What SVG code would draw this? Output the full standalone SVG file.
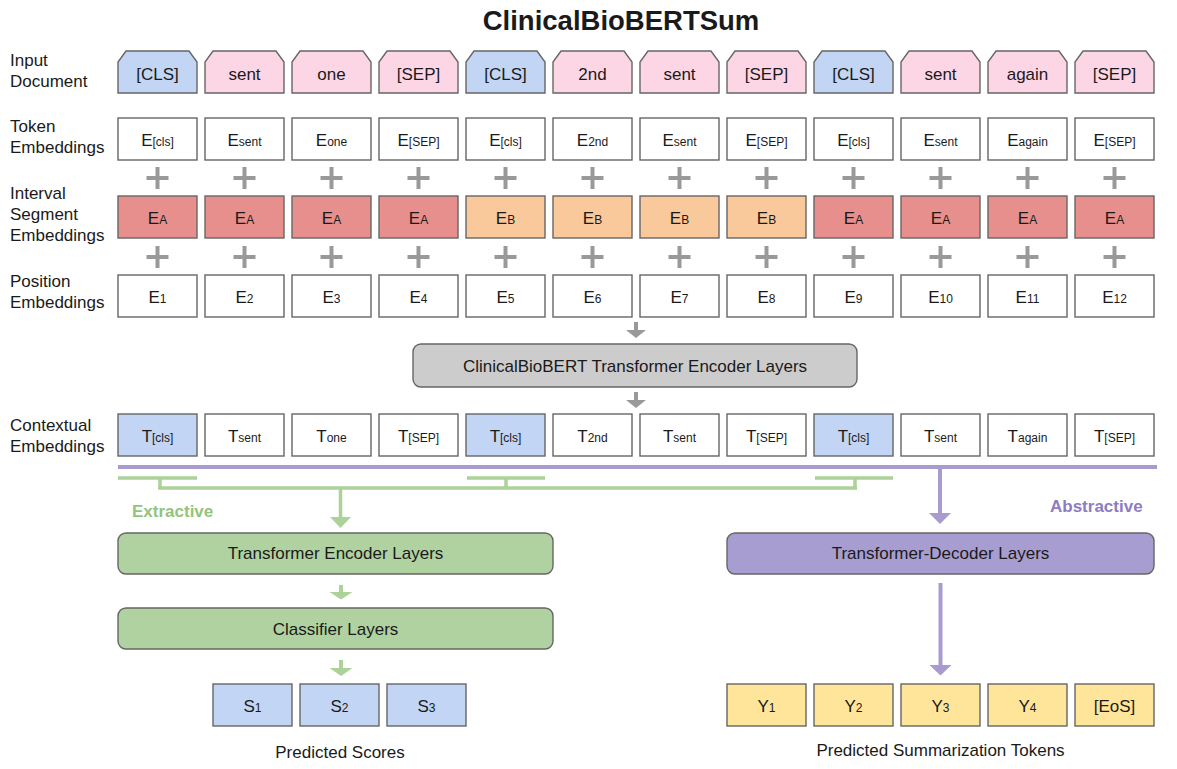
<svg xmlns="http://www.w3.org/2000/svg" width="1177" height="769" viewBox="0 0 1177 769">
<style>
text{font-family:"Liberation Sans",Arial,sans-serif;fill:#1a1a1a}
.lbl{font-size:17px}
.t{font-size:17px;text-anchor:middle}
.s{font-size:12px}
.box{stroke:#666;stroke-width:1.4}
.w{fill:#fff}
.blue{fill:#c2d5f4}
.pink{fill:#fdd6e6}
.red{fill:#e68f8c}
.org{fill:#f9c99b}
.yel{fill:#ffe599}
.gry{fill:#cccccc}
.grn{fill:#b0d2a0}
.pur{fill:#a89dd0}
.plus{stroke:#999;stroke-width:4;fill:none}
.ga{fill:#999}
.gl{stroke:#acd29a;stroke-width:3.5;fill:none}
.gf{fill:#acd29a}
.pl{stroke:#a99bd0;stroke-width:4;fill:none}
.pf{fill:#a99bd0}
</style>

<text x="621" y="30" font-size="27.5" font-weight="bold" text-anchor="middle">ClinicalBioBERTSum</text>

<g id="row-labels">
<text class="lbl" x="10" y="66">Input</text>
<text class="lbl" x="10" y="87">Document</text>
<text class="lbl" x="10" y="132">Token</text>
<text class="lbl" x="10" y="153">Embeddings</text>
<text class="lbl" x="10" y="199">Interval</text>
<text class="lbl" x="10" y="220">Segment</text>
<text class="lbl" x="10" y="241">Embeddings</text>
<text class="lbl" x="10" y="287">Position</text>
<text class="lbl" x="10" y="308">Embeddings</text>
<text class="lbl" x="10" y="431">Contextual</text>
<text class="lbl" x="10" y="452">Embeddings</text>
</g>

<g id="input-document">
<g id="in1"><path class="box blue" d="M118,93V62L126,51H189L197,62V93Z"/><text class="t" x="157.5" y="80">[CLS]</text></g>
<g id="in2"><path class="box pink" d="M205,93V62L213,51H276L284,62V93Z"/><text class="t" x="244.5" y="80">sent</text></g>
<g id="in3"><path class="box pink" d="M292,93V62L300,51H363L371,62V93Z"/><text class="t" x="331.5" y="80">one</text></g>
<g id="in4"><path class="box pink" d="M379,93V62L387,51H450L458,62V93Z"/><text class="t" x="418.5" y="80">[SEP]</text></g>
<g id="in5"><path class="box blue" d="M466,93V62L474,51H537L545,62V93Z"/><text class="t" x="505.5" y="80">[CLS]</text></g>
<g id="in6"><path class="box pink" d="M553,93V62L561,51H624L632,62V93Z"/><text class="t" x="592.5" y="80">2nd</text></g>
<g id="in7"><path class="box pink" d="M640,93V62L648,51H711L719,62V93Z"/><text class="t" x="679.5" y="80">sent</text></g>
<g id="in8"><path class="box pink" d="M727,93V62L735,51H798L806,62V93Z"/><text class="t" x="766.5" y="80">[SEP]</text></g>
<g id="in9"><path class="box blue" d="M814,93V62L822,51H885L893,62V93Z"/><text class="t" x="853.5" y="80">[CLS]</text></g>
<g id="in10"><path class="box pink" d="M901,93V62L909,51H972L980,62V93Z"/><text class="t" x="940.5" y="80">sent</text></g>
<g id="in11"><path class="box pink" d="M988,93V62L996,51H1059L1067,62V93Z"/><text class="t" x="1027.5" y="80">again</text></g>
<g id="in12"><path class="box pink" d="M1075,93V62L1083,51H1146L1154,62V93Z"/><text class="t" x="1114.5" y="80">[SEP]</text></g>
</g>

<g id="token-embeddings">
<g id="tk1"><rect class="box w" x="118" y="118" width="79" height="42"/><text class="t" x="157.5" y="146">E<tspan class="s">[cls]</tspan></text></g>
<g id="tk2"><rect class="box w" x="205" y="118" width="79" height="42"/><text class="t" x="244.5" y="146">E<tspan class="s">sent</tspan></text></g>
<g id="tk3"><rect class="box w" x="292" y="118" width="79" height="42"/><text class="t" x="331.5" y="146">E<tspan class="s">one</tspan></text></g>
<g id="tk4"><rect class="box w" x="379" y="118" width="79" height="42"/><text class="t" x="418.5" y="146">E<tspan class="s">[SEP]</tspan></text></g>
<g id="tk5"><rect class="box w" x="466" y="118" width="79" height="42"/><text class="t" x="505.5" y="146">E<tspan class="s">[cls]</tspan></text></g>
<g id="tk6"><rect class="box w" x="553" y="118" width="79" height="42"/><text class="t" x="592.5" y="146">E<tspan class="s">2nd</tspan></text></g>
<g id="tk7"><rect class="box w" x="640" y="118" width="79" height="42"/><text class="t" x="679.5" y="146">E<tspan class="s">sent</tspan></text></g>
<g id="tk8"><rect class="box w" x="727" y="118" width="79" height="42"/><text class="t" x="766.5" y="146">E<tspan class="s">[SEP]</tspan></text></g>
<g id="tk9"><rect class="box w" x="814" y="118" width="79" height="42"/><text class="t" x="853.5" y="146">E<tspan class="s">[cls]</tspan></text></g>
<g id="tk10"><rect class="box w" x="901" y="118" width="79" height="42"/><text class="t" x="940.5" y="146">E<tspan class="s">sent</tspan></text></g>
<g id="tk11"><rect class="box w" x="988" y="118" width="79" height="42"/><text class="t" x="1027.5" y="146">E<tspan class="s">again</tspan></text></g>
<g id="tk12"><rect class="box w" x="1075" y="118" width="79" height="42"/><text class="t" x="1114.5" y="146">E<tspan class="s">[SEP]</tspan></text></g>
</g>

<g id="plus-signs" class="plus">
<path d="M146.5,178h22M157.5,167v22M233.5,178h22M244.5,167v22M320.5,178h22M331.5,167v22M407.5,178h22M418.5,167v22M494.5,178h22M505.5,167v22M581.5,178h22M592.5,167v22M668.5,178h22M679.5,167v22M755.5,178h22M766.5,167v22M842.5,178h22M853.5,167v22M929.5,178h22M940.5,167v22M1016.5,178h22M1027.5,167v22M1103.5,178h22M1114.5,167v22"/>
<path d="M146.5,257h22M157.5,246v22M233.5,257h22M244.5,246v22M320.5,257h22M331.5,246v22M407.5,257h22M418.5,246v22M494.5,257h22M505.5,246v22M581.5,257h22M592.5,246v22M668.5,257h22M679.5,246v22M755.5,257h22M766.5,246v22M842.5,257h22M853.5,246v22M929.5,257h22M940.5,246v22M1016.5,257h22M1027.5,246v22M1103.5,257h22M1114.5,246v22"/>
</g>

<g id="segment-embeddings">
<g id="sg1"><rect class="box red" x="118" y="196" width="79" height="42"/><text class="t" x="157.5" y="224">E<tspan class="s">A</tspan></text></g>
<g id="sg2"><rect class="box red" x="205" y="196" width="79" height="42"/><text class="t" x="244.5" y="224">E<tspan class="s">A</tspan></text></g>
<g id="sg3"><rect class="box red" x="292" y="196" width="79" height="42"/><text class="t" x="331.5" y="224">E<tspan class="s">A</tspan></text></g>
<g id="sg4"><rect class="box red" x="379" y="196" width="79" height="42"/><text class="t" x="418.5" y="224">E<tspan class="s">A</tspan></text></g>
<g id="sg5"><rect class="box org" x="466" y="196" width="79" height="42"/><text class="t" x="505.5" y="224">E<tspan class="s">B</tspan></text></g>
<g id="sg6"><rect class="box org" x="553" y="196" width="79" height="42"/><text class="t" x="592.5" y="224">E<tspan class="s">B</tspan></text></g>
<g id="sg7"><rect class="box org" x="640" y="196" width="79" height="42"/><text class="t" x="679.5" y="224">E<tspan class="s">B</tspan></text></g>
<g id="sg8"><rect class="box org" x="727" y="196" width="79" height="42"/><text class="t" x="766.5" y="224">E<tspan class="s">B</tspan></text></g>
<g id="sg9"><rect class="box red" x="814" y="196" width="79" height="42"/><text class="t" x="853.5" y="224">E<tspan class="s">A</tspan></text></g>
<g id="sg10"><rect class="box red" x="901" y="196" width="79" height="42"/><text class="t" x="940.5" y="224">E<tspan class="s">A</tspan></text></g>
<g id="sg11"><rect class="box red" x="988" y="196" width="79" height="42"/><text class="t" x="1027.5" y="224">E<tspan class="s">A</tspan></text></g>
<g id="sg12"><rect class="box red" x="1075" y="196" width="79" height="42"/><text class="t" x="1114.5" y="224">E<tspan class="s">A</tspan></text></g>
</g>

<g id="position-embeddings">
<g id="ps1"><rect class="box w" x="118" y="275" width="79" height="42"/><text class="t" x="157.5" y="303">E<tspan class="s">1</tspan></text></g>
<g id="ps2"><rect class="box w" x="205" y="275" width="79" height="42"/><text class="t" x="244.5" y="303">E<tspan class="s">2</tspan></text></g>
<g id="ps3"><rect class="box w" x="292" y="275" width="79" height="42"/><text class="t" x="331.5" y="303">E<tspan class="s">3</tspan></text></g>
<g id="ps4"><rect class="box w" x="379" y="275" width="79" height="42"/><text class="t" x="418.5" y="303">E<tspan class="s">4</tspan></text></g>
<g id="ps5"><rect class="box w" x="466" y="275" width="79" height="42"/><text class="t" x="505.5" y="303">E<tspan class="s">5</tspan></text></g>
<g id="ps6"><rect class="box w" x="553" y="275" width="79" height="42"/><text class="t" x="592.5" y="303">E<tspan class="s">6</tspan></text></g>
<g id="ps7"><rect class="box w" x="640" y="275" width="79" height="42"/><text class="t" x="679.5" y="303">E<tspan class="s">7</tspan></text></g>
<g id="ps8"><rect class="box w" x="727" y="275" width="79" height="42"/><text class="t" x="766.5" y="303">E<tspan class="s">8</tspan></text></g>
<g id="ps9"><rect class="box w" x="814" y="275" width="79" height="42"/><text class="t" x="853.5" y="303">E<tspan class="s">9</tspan></text></g>
<g id="ps10"><rect class="box w" x="901" y="275" width="79" height="42"/><text class="t" x="940.5" y="303">E<tspan class="s">10</tspan></text></g>
<g id="ps11"><rect class="box w" x="988" y="275" width="79" height="42"/><text class="t" x="1027.5" y="303">E<tspan class="s">11</tspan></text></g>
<g id="ps12"><rect class="box w" x="1075" y="275" width="79" height="42"/><text class="t" x="1114.5" y="303">E<tspan class="s">12</tspan></text></g>
</g>

<g id="bert-encoder"><rect class="box gry" x="413" y="344" width="444" height="43" rx="8"/><text class="t" x="635" y="372">ClinicalBioBERT Transformer Encoder Layers</text></g>

<g id="contextual-embeddings">
<g id="ct1"><rect class="box blue" x="118" y="414" width="79" height="42"/><text class="t" x="157.5" y="442">T<tspan class="s">[cls]</tspan></text></g>
<g id="ct2"><rect class="box w" x="205" y="414" width="79" height="42"/><text class="t" x="244.5" y="442">T<tspan class="s">sent</tspan></text></g>
<g id="ct3"><rect class="box w" x="292" y="414" width="79" height="42"/><text class="t" x="331.5" y="442">T<tspan class="s">one</tspan></text></g>
<g id="ct4"><rect class="box w" x="379" y="414" width="79" height="42"/><text class="t" x="418.5" y="442">T<tspan class="s">[SEP]</tspan></text></g>
<g id="ct5"><rect class="box blue" x="466" y="414" width="79" height="42"/><text class="t" x="505.5" y="442">T<tspan class="s">[cls]</tspan></text></g>
<g id="ct6"><rect class="box w" x="553" y="414" width="79" height="42"/><text class="t" x="592.5" y="442">T<tspan class="s">2nd</tspan></text></g>
<g id="ct7"><rect class="box w" x="640" y="414" width="79" height="42"/><text class="t" x="679.5" y="442">T<tspan class="s">sent</tspan></text></g>
<g id="ct8"><rect class="box w" x="727" y="414" width="79" height="42"/><text class="t" x="766.5" y="442">T<tspan class="s">[SEP]</tspan></text></g>
<g id="ct9"><rect class="box blue" x="814" y="414" width="79" height="42"/><text class="t" x="853.5" y="442">T<tspan class="s">[cls]</tspan></text></g>
<g id="ct10"><rect class="box w" x="901" y="414" width="79" height="42"/><text class="t" x="940.5" y="442">T<tspan class="s">sent</tspan></text></g>
<g id="ct11"><rect class="box w" x="988" y="414" width="79" height="42"/><text class="t" x="1027.5" y="442">T<tspan class="s">again</tspan></text></g>
<g id="ct12"><rect class="box w" x="1075" y="414" width="79" height="42"/><text class="t" x="1114.5" y="442">T<tspan class="s">[SEP]</tspan></text></g>
</g>

<g id="connectors">
<path class="ga" d="M634,322h4v8h8l-10,8l-10,-8h8z"/>
<path class="ga" d="M634,392h4v8h8l-10,8l-10,-8h8z"/>
<path class="pl" d="M118,467H1157"/>
<path class="gl" d="M118,478H197M467,478H545M815,478H893M160,478V488M506,478V488M855,478V488M158,488H857M340.5,488V518"/>
<path class="gf" d="M330,517H351L340.5,528Z"/>
<path class="pl" d="M940,467V514"/>
<path class="pf" d="M929,513H951L940,524Z"/>
<path class="gf" d="M339,585h4v7h9.5l-11.5,7.5l-11.5,-7.5h9.5z"/>
<path class="gf" d="M339,660h4v8h9.5l-11.5,8l-11.5,-8h9.5z"/>
<path class="pl" d="M940.5,583V666"/>
<path class="pf" d="M929.5,665H951.5L940.5,675.5Z"/>
</g>

<text x="132" y="517" font-size="17" font-weight="bold" style="fill:#93c47d">Extractive</text>
<text x="1050" y="512" font-size="17" font-weight="bold" style="fill:#8e7cc3">Abstractive</text>

<g id="ext-encoder"><rect class="box grn" x="118" y="533" width="435" height="41" rx="8"/><text class="t" x="335.5" y="559">Transformer Encoder Layers</text></g>
<g id="classifier"><rect class="box grn" x="118" y="608" width="435" height="41" rx="8"/><text class="t" x="335.5" y="635">Classifier Layers</text></g>
<g id="decoder"><rect class="box pur" x="727" y="533" width="427" height="41" rx="8"/><text class="t" x="940.5" y="559">Transformer-Decoder Layers</text></g>

<g id="scores">
<g id="s1"><rect class="box blue" x="213" y="684" width="79" height="42"/><text class="t" x="252.5" y="712">S<tspan class="s">1</tspan></text></g>
<g id="s2"><rect class="box blue" x="300" y="684" width="79" height="42"/><text class="t" x="339.5" y="712">S<tspan class="s">2</tspan></text></g>
<g id="s3"><rect class="box blue" x="387" y="684" width="79" height="42"/><text class="t" x="426.5" y="712">S<tspan class="s">3</tspan></text></g>
<text class="t" x="340" y="758">Predicted Scores</text>
</g>

<g id="summary-tokens">
<g id="y1"><rect class="box yel" x="727" y="684" width="79" height="42"/><text class="t" x="766.5" y="712">Y<tspan class="s">1</tspan></text></g>
<g id="y2"><rect class="box yel" x="814" y="684" width="79" height="42"/><text class="t" x="853.5" y="712">Y<tspan class="s">2</tspan></text></g>
<g id="y3"><rect class="box yel" x="901" y="684" width="79" height="42"/><text class="t" x="940.5" y="712">Y<tspan class="s">3</tspan></text></g>
<g id="y4"><rect class="box yel" x="988" y="684" width="79" height="42"/><text class="t" x="1027.5" y="712">Y<tspan class="s">4</tspan></text></g>
<g id="y5"><rect class="box yel" x="1075" y="684" width="79" height="42"/><text class="t" x="1114.5" y="712">[EoS]</text></g>
<text class="t" x="940.5" y="756">Predicted Summarization Tokens</text>
</g>
</svg>
